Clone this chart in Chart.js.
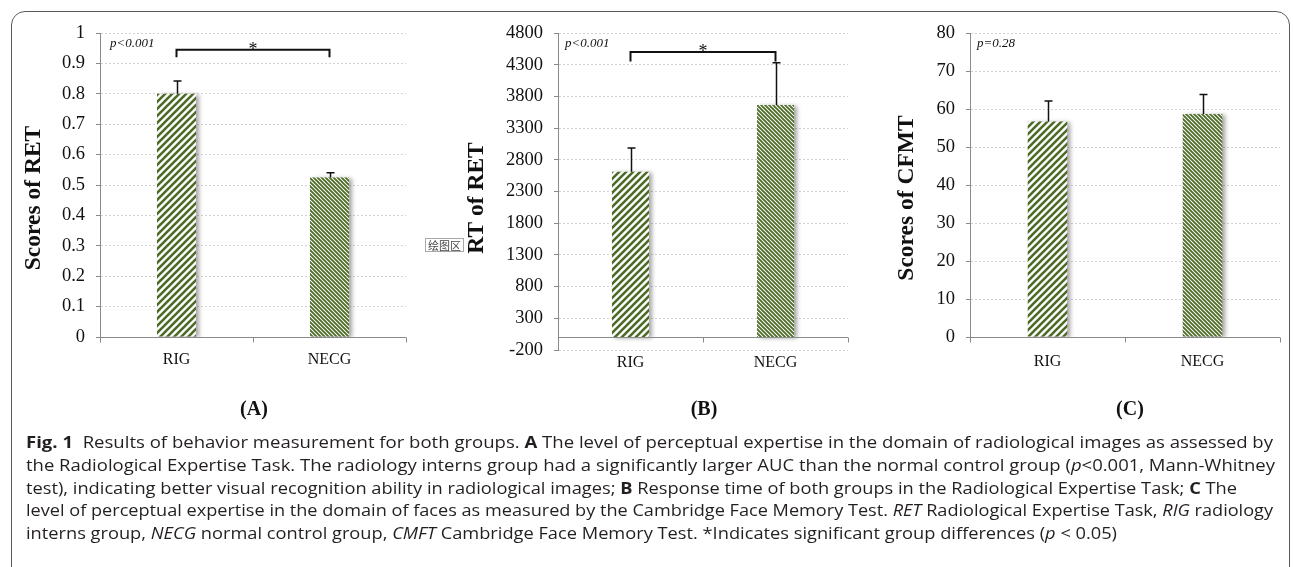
<!DOCTYPE html>
<html>
<head>
<meta charset="utf-8">
<script src="https://cdn.jsdelivr.net/npm/chart.js@4.4.1/dist/chart.umd.min.js"></script>
<style>
html, body { margin: 0; padding: 0; background: #fff; }
#page { position: relative; width: 1293px; height: 567px; overflow: hidden; background: #fff; }
#page canvas { position: absolute; left: 0; top: 0; }
#frame { position: absolute; left: 11px; top: 11px; width: 1279px; height: 580px; border: 1.5px solid #5a5a5a; border-radius: 14px; box-sizing: border-box; }
.panel { position: absolute; top: 397px; font: bold 20px "Liberation Serif"; color: #111; transform: translateX(-50%); }
#caption { position: absolute; left: 26px; top: 431px; font: 16px "Open Sans"; color: #231f20; line-height: 22.8px; }
#caption div { white-space: nowrap; width: max-content; transform-origin: 0 50%; }
#tip { position: absolute; left: 425px; top: 238px; width: 39px; height: 14px; box-sizing: border-box; border: 1px solid #a8a8a8; background: #fff; font: 11px "Noto Sans CJK SC"; line-height: 12px; color: #444; text-align: center; }
</style>
</head>
<body>
<div id="page">
  <div id="frame"></div>
  <canvas id="chartA" width="1293" height="567"></canvas>
  <canvas id="chartB" width="1293" height="567"></canvas>
  <canvas id="chartC" width="1293" height="567"></canvas>
  <div id="tip">绘图区</div>
  <div class="panel" style="left:254px">(A)</div>
  <div class="panel" style="left:704px">(B)</div>
  <div class="panel" style="left:1130px">(C)</div>
  <div id="caption">
    <div><b>Fig. 1</b>&nbsp; Results of behavior measurement for both groups. <b>A</b> The level of perceptual expertise in the domain of radiological images as assessed by</div>
    <div>the Radiological Expertise Task. The radiology interns group had a significantly larger AUC than the normal control group (<i>p</i>&lt;0.001, Mann-Whitney</div>
    <div>test), indicating better visual recognition ability in radiological images; <b>B</b> Response time of both groups in the Radiological Expertise Task; <b>C</b> The</div>
    <div>level of perceptual expertise in the domain of faces as measured by the Cambridge Face Memory Test. <i>RET</i> Radiological Expertise Task, <i>RIG</i> radiology</div>
    <div>interns group, <i>NECG</i> normal control group, <i>CMFT</i> Cambridge Face Memory Test. *Indicates significant group differences (<i>p</i> &lt; 0.05)</div>
  </div>
</div>
<script>
const groups = ['RIG', 'NECG']

// (A) scores of RET
const retScore = [0.80, 0.525]
const retScoreErr = [0.042, 0.015]
const retScoreTicks = [0, 0.1, 0.2, 0.3, 0.4, 0.5, 0.6, 0.7, 0.8, 0.9, 1]

// (B) response time of RET
const retRT = [2610, 3665]
const retRTErr = [375, 665]
const retRTTicks = [-200, 300, 800, 1300, 1800, 2300, 2800, 3300, 3800, 4300, 4800]

// (C) scores of CFMT
const cfmtScore = [56.7, 58.7]
const cfmtErr = [5.4, 5.1]
const cfmtTicks = [0, 10, 20, 30, 40, 50, 60, 70, 80]

const green = '#4d6b26'
const axisGrey = '#8a8a8a'

function stripes(size, width, dir) {
    const c = document.createElement('canvas')
    c.width = size
    c.height = size
    const g = c.getContext('2d')
    g.fillStyle = '#fff'
    g.fillRect(0, 0, size, size)
    g.strokeStyle = green
    g.lineWidth = width
    g.beginPath()
    const h = size / 2
    if (dir === '/') {
        g.moveTo(0, size); g.lineTo(size, 0)
        g.moveTo(-h, h); g.lineTo(h, -h)
        g.moveTo(h, size + h); g.lineTo(size + h, h)
    } else {
        g.moveTo(0, 0); g.lineTo(size, size)
        g.moveTo(-h, h); g.lineTo(h, size + h)
        g.moveTo(h, -h); g.lineTo(size + h, h)
    }
    g.stroke()
    return g.createPattern(c, 'repeat')
}

const fills = [stripes(7, 2.6, '/'), stripes(4, 1.9, '\\')]

// soft shadow on the right of the bars
const shadowPlugin = {
    id: 'barShadow',
    beforeDatasetsDraw(chart) {
        const ctx = chart.ctx
        ctx.save()
        ctx.shadowColor = 'rgba(0,0,0,0.35)'
        ctx.shadowBlur = 4
        ctx.shadowOffsetX = 3
        ctx.shadowOffsetY = 1
    },
    afterDatasetsDraw(chart) {
        chart.ctx.restore()
    }
}

// baseline at 0, error bars, bracket, p text, y title
const extrasPlugin = {
    id: 'extras',
    afterDatasetsDraw(chart, args, opts) {
        const ctx = chart.ctx
        const x = chart.scales.x
        const y = chart.scales.y
        const area = chart.chartArea

        // x axis line at value 0
        const y0 = Math.round(y.getPixelForValue(0)) + 0.5
        ctx.save()
        ctx.strokeStyle = axisGrey
        ctx.lineWidth = 1
        ctx.beginPath()
        ctx.moveTo(area.left, y0)
        ctx.lineTo(area.right, y0)
        const mid = (x.getPixelForValue(0) + x.getPixelForValue(1)) / 2
        for (const tx of [area.left, mid, area.right]) {
            const px = Math.round(tx) + 0.5
            ctx.moveTo(px, y0)
            ctx.lineTo(px, y0 + 5)
        }
        ctx.stroke()

        // error bars (upper only)
        const meta = chart.getDatasetMeta(0)
        ctx.strokeStyle = '#111'
        ctx.lineWidth = 1.5
        meta.data.forEach((bar, i) => {
            const top = y.getPixelForValue(opts.values[i] + opts.errors[i])
            const cx = Math.round(bar.x) + 0.5
            ctx.beginPath()
            ctx.moveTo(cx, bar.y)
            ctx.lineTo(cx, top)
            ctx.moveTo(cx - 4, top)
            ctx.lineTo(cx + 4, top)
            ctx.stroke()
        })

        // significance bracket
        if (opts.bracket) {
            const by = y.getPixelForValue(opts.bracket[0])
            const leg = y.getPixelForValue(opts.bracket[1])
            const x1 = x.getPixelForValue(0)
            const x2 = x.getPixelForValue(1)
            ctx.strokeStyle = '#111'
            ctx.lineWidth = 2
            ctx.beginPath()
            ctx.moveTo(x1, leg)
            ctx.lineTo(x1, by)
            ctx.lineTo(x2, by)
            ctx.lineTo(x2, leg)
            ctx.stroke()
            ctx.fillStyle = '#111'
            ctx.font = '18px "Liberation Serif"'
            ctx.textAlign = 'center'
            ctx.textBaseline = 'alphabetic'
            ctx.fillText('*', (x1 + x2) / 2, by + 5)
        }

        // p value
        ctx.fillStyle = '#111'
        ctx.font = 'italic 13px "Liberation Serif"'
        ctx.textAlign = 'left'
        ctx.textBaseline = 'middle'
        ctx.fillText(opts.pText, area.left + opts.pOffset, area.top + 11)

        // y axis title
        ctx.translate(area.left - opts.titleOffset, 198)
        ctx.rotate(-Math.PI / 2)
        ctx.font = 'bold 23.5px "Liberation Serif"'
        ctx.textAlign = 'center'
        ctx.fillText(opts.title, 0, 0)
        ctx.restore()
    }
}

function makeChart(id, values, errors, ticks, pad, labelPad, extras) {
    const ctx = document.getElementById(id)
    return new Chart(ctx, {
        type: 'bar',
        data: {
            labels: groups,
            datasets: [{
                data: values,
                backgroundColor: fills,
                borderWidth: 0,
                barPercentage: 0.255,
                categoryPercentage: 1
            }]
        },
        options: {
            responsive: false,
            animation: false,
            events: [],
            layout: { padding: pad },
            plugins: {
                legend: { display: false },
                tooltip: { enabled: false },
                extras: Object.assign({ values: values, errors: errors }, extras)
            },
            scales: {
                x: {
                    grid: { display: false, drawTicks: false },
                    border: { display: false },
                    ticks: { font: { family: 'Liberation Serif', size: 16 }, color: '#111', padding: labelPad },
                    afterFit: s => { s.height = 40 }
                },
                y: {
                    min: ticks[0],
                    max: ticks[ticks.length - 1],
                    afterBuildTicks: s => { s.ticks = ticks.map(v => ({ value: v })) },
                    afterFit: s => { s.width = 60 },
                    grid: { color: '#d2d2d2', lineWidth: 1, tickLength: 4, tickColor: axisGrey, tickWidth: 1, tickBorderDash: [] },
                    border: { color: axisGrey, width: 1, dash: [2, 2] },
                    ticks: {
                        font: { family: 'Liberation Serif', size: 18.5 },
                        color: '#111',
                        padding: 11,
                        callback: v => String(v)
                    }
                }
            }
        },
        plugins: [shadowPlugin, extrasPlugin]
    })
}

makeChart('chartA', retScore, retScoreErr, retScoreTicks,
    { left: 40, right: 887, top: 33, bottom: 190 }, 13,
    { bracket: [0.945, 0.92], pText: 'p<0.001', pOffset: 10, title: 'Scores of RET', titleOffset: 66 })

makeChart('chartB', retRT, retRTErr, retRTTicks,
    { left: 498, right: 445, top: 33, bottom: 177 }, 3,
    { bracket: [4500, 4350], pText: 'p<0.001', pOffset: 7, title: 'RT of RET', titleOffset: 81 })

makeChart('chartC', cfmtScore, cfmtErr, cfmtTicks,
    { left: 910, right: 13, top: 33, bottom: 190 }, 15,
    { pText: 'p=0.28', pOffset: 7, title: 'Scores of CFMT', titleOffset: 63 })

// fit caption lines to the measured line ends
const lineEnds = [1273, 1275, 1237, 1273, 1117]
document.querySelectorAll('#caption div').forEach((line, i) => {
    const w = line.getBoundingClientRect().width
    line.style.transform = 'scaleX(' + ((lineEnds[i] - 26) / w) + ')'
})
</script>
</body>
</html>
